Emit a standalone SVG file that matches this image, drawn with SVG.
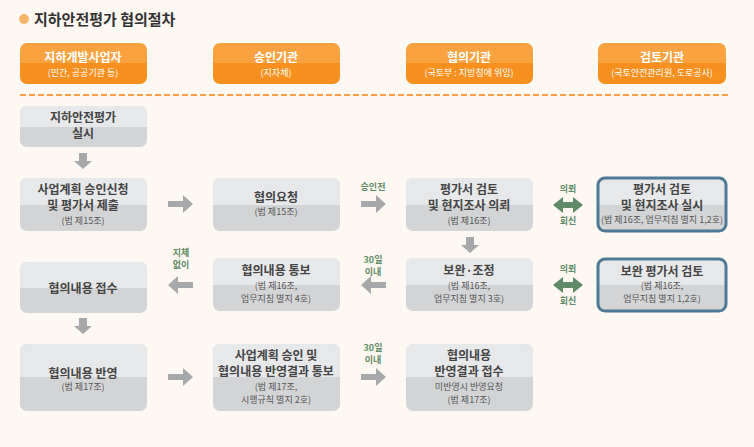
<svg xmlns="http://www.w3.org/2000/svg" width="754" height="447" viewBox="0 0 754 447">
<defs>
<linearGradient id="hd" x1="0" y1="0" x2="0" y2="1"><stop offset="0.5" stop-color="#f9a23f"/><stop offset="0.5" stop-color="#f7901e"/></linearGradient>
</defs>
<style>
text{font-family:"Noto Sans CJK KR","Noto Sans",sans-serif;text-anchor:middle}
.hd{fill:url(#hd)}
.ht{font-size:12px;font-weight:bold;fill:#fff}
.hs{font-size:9px;fill:#fff}
.t{font-size:12px;font-weight:bold;fill:#444}
.s{font-size:9px;fill:#555}
.g{font-size:9px;font-weight:bold;fill:#5f8b67}
.ar{fill:#a7a8aa}
.gr{fill:#5f8b67}
.bl{fill:none;stroke:#4f7a97;stroke-width:3}
</style>
<rect width="754" height="447" fill="#fdf8f1"/>
<circle cx="24" cy="19" r="5" fill="#f9b36a"/>
<text x="34" y="25" style="font-size:15px;font-weight:bold;fill:#333;text-anchor:start">지하안전평가 협의절차</text>
<g id="headers">
<rect x="20" y="43" width="127" height="41" rx="7" class="hd"/><text x="83" y="62" class="ht">지하개발사업자</text><text x="83" y="76" class="hs">(민간, 공공기관 등)</text>
<rect x="213" y="43" width="127" height="41" rx="7" class="hd"/><text x="276" y="62" class="ht">승인기관</text><text x="276" y="76" class="hs">(지자체)</text>
<rect x="406" y="43" width="127" height="41" rx="7" class="hd"/><text x="469" y="62" class="ht">협의기관</text><text x="469" y="76" class="hs">(국토부 : 지방청에 위임)</text>
<rect x="598" y="43" width="128" height="41" rx="7" class="hd"/><text x="662" y="62" class="ht">검토기관</text><text x="662" y="76" class="hs">(국토안전관리원, 도로공사)</text>
</g>
<line x1="20" y1="95" x2="728" y2="95" stroke="#f6a04a" stroke-width="2" stroke-dasharray="6,3"/>
<g id="n1"><rect x="20" y="106" width="127" height="41" rx="7" fill="#d3d4d6"/><path d="M20,127V113a7,7 0 0 1 7,-7H140a7,7 0 0 1 7,7V127z" fill="#e7e8ea"/><text x="83" y="122" class="t">지하안전평가</text><text x="83" y="138" class="t">실시</text></g>
<g id="n2"><rect x="20" y="178" width="127" height="53" rx="7" fill="#d3d4d6"/><path d="M20,205V185a7,7 0 0 1 7,-7H140a7,7 0 0 1 7,7V205z" fill="#e7e8ea"/><text x="83" y="194" class="t">사업계획 승인신청</text><text x="83" y="210" class="t">및 평가서 제출</text><text x="83" y="224" class="s">(법 제15조)</text></g>
<g id="n3"><rect x="213" y="178" width="127" height="53" rx="7" fill="#d3d4d6"/><path d="M213,205V185a7,7 0 0 1 7,-7H333a7,7 0 0 1 7,7V205z" fill="#e7e8ea"/><text x="276" y="202" class="t">협의요청</text><text x="276" y="215" class="s">(법 제15조)</text></g>
<g id="n4"><rect x="406" y="178" width="127" height="53" rx="7" fill="#d3d4d6"/><path d="M406,205V185a7,7 0 0 1 7,-7H526a7,7 0 0 1 7,7V205z" fill="#e7e8ea"/><text x="469" y="194" class="t">평가서 검토</text><text x="469" y="210" class="t">및 현지조사 의뢰</text><text x="469" y="224" class="s">(법 제16조)</text></g>
<g id="n5"><rect x="598" y="178" width="128" height="53" rx="7" fill="#d3d4d6"/><path d="M598,205V185a7,7 0 0 1 7,-7H719a7,7 0 0 1 7,7V205z" fill="#e7e8ea"/><rect x="598" y="178" width="128" height="53" rx="7" class="bl"/><text x="662" y="194" class="t">평가서 검토</text><text x="662" y="210" class="t">및 현지조사 실시</text><text x="662" y="223" class="s">(법 제16조, 업무지침 별지 1,2호)</text></g>
<g id="n6"><rect x="20" y="262" width="127" height="51" rx="7" fill="#d3d4d6"/><path d="M20,288V269a7,7 0 0 1 7,-7H140a7,7 0 0 1 7,7V288z" fill="#e7e8ea"/><text x="83" y="293" class="t">협의내용 접수</text></g>
<g id="n7"><rect x="213" y="258" width="127" height="53" rx="7" fill="#d3d4d6"/><path d="M213,285V265a7,7 0 0 1 7,-7H333a7,7 0 0 1 7,7V285z" fill="#e7e8ea"/><text x="276" y="275" class="t">협의내용 통보</text><text x="276" y="289" class="s">(법 제16조,</text><text x="276" y="302" class="s">업무지침 별지 4호)</text></g>
<g id="n8"><rect x="406" y="258" width="127" height="53" rx="7" fill="#d3d4d6"/><path d="M406,285V265a7,7 0 0 1 7,-7H526a7,7 0 0 1 7,7V285z" fill="#e7e8ea"/><text x="469" y="275" class="t">보완·조정</text><text x="469" y="289" class="s">(법 제16조,</text><text x="469" y="302" class="s">업무지침 별지 3호)</text></g>
<g id="n9"><rect x="598" y="259" width="128" height="52" rx="7" fill="#d3d4d6"/><path d="M598,285V266a7,7 0 0 1 7,-7H719a7,7 0 0 1 7,7V285z" fill="#e7e8ea"/><rect x="598" y="259" width="128" height="52" rx="7" class="bl"/><text x="662" y="276" class="t">보완 평가서 검토</text><text x="662" y="289" class="s">(법 제16조,</text><text x="662" y="302" class="s">업무지침 별지 1,2호)</text></g>
<g id="n10"><rect x="20" y="344" width="127" height="67" rx="7" fill="#d3d4d6"/><path d="M20,377V351a7,7 0 0 1 7,-7H140a7,7 0 0 1 7,7V377z" fill="#e7e8ea"/><text x="83" y="378" class="t">협의내용 반영</text><text x="83" y="390" class="s">(법 제17조)</text></g>
<g id="n11"><rect x="213" y="344" width="127" height="67" rx="7" fill="#d3d4d6"/><path d="M213,377V351a7,7 0 0 1 7,-7H333a7,7 0 0 1 7,7V377z" fill="#e7e8ea"/><text x="276" y="360" class="t">사업계획 승인 및</text><text x="276" y="376" class="t">협의내용 반영결과 통보</text><text x="276" y="390" class="s">(법 제17조,</text><text x="276" y="403" class="s">시행규칙 별지 2호)</text></g>
<g id="n12"><rect x="406" y="344" width="127" height="67" rx="7" fill="#d3d4d6"/><path d="M406,377V351a7,7 0 0 1 7,-7H526a7,7 0 0 1 7,7V377z" fill="#e7e8ea"/><text x="469" y="360" class="t">협의내용</text><text x="469" y="376" class="t">반영결과 접수</text><text x="469" y="390" class="s">미반영시 반영요청</text><text x="469" y="403" class="s">(법 제17조)</text></g>
<g id="connectors">
<path class="ar" d="M79,153h8v8h5l-9,8l-9,-8h5z"/>
<path class="ar" d="M79,318h8v8h5l-9,8l-9,-8h5z"/>
<path class="ar" d="M466,237h8v8h5l-9,8l-9,-8h5z"/>
<path class="ar" d="M168,201h15v-6l10,9l-10,9v-6h-15z"/>
<path class="ar" d="M361,201h15v-6l10,9l-10,9v-6h-15z"/>
<path class="ar" d="M168,374h15v-6l10,9l-10,9v-6h-15z"/>
<path class="ar" d="M361,374h15v-6l10,9l-10,9v-6h-15z"/>
<path class="ar" d="M193,282h-15v-6l-10,9l10,9v-6h15z"/>
<path class="ar" d="M386,282h-15v-6l-10,9l10,9v-6h15z"/>
<path class="gr" d="M553,205l10,-8v5h10v-5l10,8l-10,8v-5h-10v5z"/>
<path class="gr" d="M553,285l10,-8v5h10v-5l10,8l-10,8v-5h-10v5z"/>
<text x="373" y="190" class="g">승인전</text>
<text x="373" y="263" class="g">30일</text><text x="373" y="275" class="g">이내</text>
<text x="181" y="256" class="g">지체</text><text x="181" y="268" class="g">없이</text>
<text x="373" y="351" class="g">30일</text><text x="373" y="363" class="g">이내</text>
<text x="568" y="192" class="g">의뢰</text><text x="568" y="224" class="g">회신</text>
<text x="568" y="272" class="g">의뢰</text><text x="568" y="304" class="g">회신</text>
</g>
</svg>
